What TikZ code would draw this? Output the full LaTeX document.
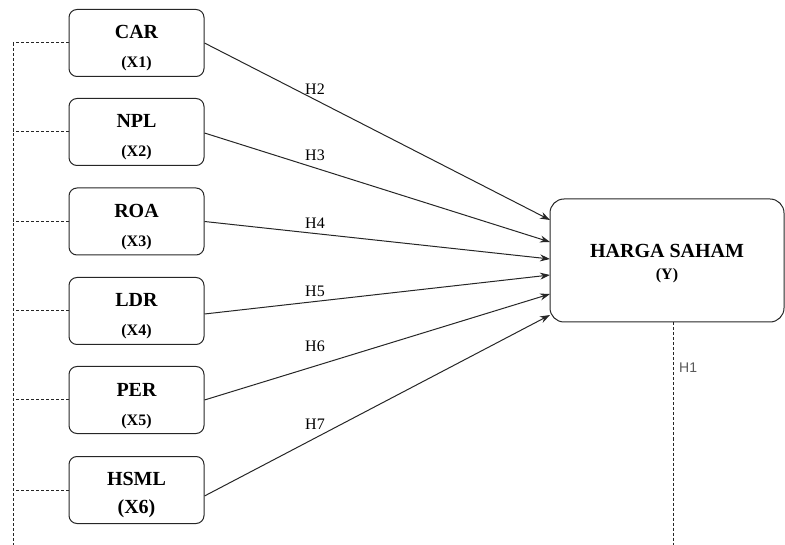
\documentclass[tikz,border=0pt]{standalone}
\usepackage{fontspec}
\setmainfont{Liberation Serif}
\newfontfamily\hsans{Liberation Sans}
\usetikzlibrary{arrows.meta,calc}
\tikzset{
  varbox/.style={draw=black!85, line width=1pt, rounded corners=8pt, minimum width=135pt, minimum height=67pt, inner sep=0pt},
  bigbox/.style={draw=black!85, line width=1pt, rounded corners=14pt, minimum width=234pt, minimum height=123pt, inner sep=0pt},
  ttl/.style={font=\fontsize{20}{22}\selectfont\bfseries, inner sep=0pt, anchor=base},
  sub/.style={font=\fontsize{16}{18}\selectfont\bfseries, inner sep=0pt, anchor=base},
  subbig/.style={font=\fontsize{20}{22}\selectfont\bfseries, inner sep=0pt, anchor=base},
  arr/.style={draw=black!85, line width=1pt, -{Stealth[length=10pt,width=7pt]}},
  dashln/.style={draw=black!85, line width=1pt, dash pattern=on 3pt off 2pt},
  hlab/.style={font=\fontsize{16}{18}\selectfont, inner sep=0pt},
}
\begin{document}
\begin{tikzpicture}[x=1pt,y=-1pt]
\useasboundingbox (0,0) rectangle (785,545);
\node[varbox] (car) at (136.5,43) {};
\node[varbox] (npl) at (136.5,132) {};
\node[varbox] (roa) at (136.5,221.5) {};
\node[varbox] (ldr) at (136.5,311) {};
\node[varbox] (per) at (136.5,400) {};
\node[varbox] (hsml) at (136.5,490) {};
\node[ttl] (car-t) at ($(car.center)+(0,-4)$) {CAR};
\node[sub] (car-s) at ($(car.center)+(0,25)$) {(X1)};
\node[ttl] (npl-t) at ($(npl.center)+(0,-4)$) {NPL};
\node[sub] (npl-s) at ($(npl.center)+(0,25)$) {(X2)};
\node[ttl] (roa-t) at ($(roa.center)+(0,-4)$) {ROA};
\node[sub] (roa-s) at ($(roa.center)+(0,25)$) {(X3)};
\node[ttl] (ldr-t) at ($(ldr.center)+(0,-4)$) {LDR};
\node[sub] (ldr-s) at ($(ldr.center)+(0,25)$) {(X4)};
\node[ttl] (per-t) at ($(per.center)+(0,-4)$) {PER};
\node[sub] (per-s) at ($(per.center)+(0,25)$) {(X5)};
\node[ttl] (hsml-t) at ($(hsml.center)+(0,-5)$) {HSML};
\node[subbig] (hsml-s) at ($(hsml.center)+(0,23)$) {(X6)};
\node[bigbox] (y) at (667,260.5) {};
\node[ttl] (y-t) at ($(y.center)+(0,-2.5)$) {HARGA SAHAM};
\node[sub] (y-s) at ($(y.center)+(0,19.5)$) {(Y)};
% target points on big box
\coordinate (t1) at (550,220);
\coordinate (t2) at (550,242);
\coordinate (t3) at (550,259);
\coordinate (t4) at (550,275);
\coordinate (t5) at (550,294);
\coordinate (t6) at (550,315);
\draw[arr] (car.east) -- (t1);
\draw[arr] ($(npl.east)+(0,1)$) -- (t2);
\draw[arr] (roa.east) -- (t3);
\draw[arr] ($(ldr.east)+(0,3)$) -- (t4);
\draw[arr] (per.east) -- (t5);
\draw[arr] ($(hsml.east)+(0,6)$) -- (t6);
% labels
\node[hlab] (h2) at (315,89) {H2};
\node[hlab] (h3) at (315,155) {H3};
\node[hlab] (h4) at (315,223) {H4};
\node[hlab] (h5) at (315,291) {H5};
\node[hlab] (h6) at (315,346) {H6};
\node[hlab] (h7) at (315,424) {H7};
% dashed lines left
\coordinate (lt) at (13,43);
\coordinate (lb) at (13,545);
\draw[dashln] (lt) -- (lb);
\foreach \n in {car,npl,roa,ldr,per,hsml}{
  \draw[dashln] (\n.west) -- (\n.west -| lt);
}
% H1 dashed
\coordinate (yb) at (673,545);
\draw[dashln] (y.south -| yb) -- (yb);
\node[font=\hsans\fontsize{14}{16}\selectfont, text=black!65, inner sep=0pt, anchor=west] (h1) at (679,368) {H1};
\end{tikzpicture}
\end{document}
